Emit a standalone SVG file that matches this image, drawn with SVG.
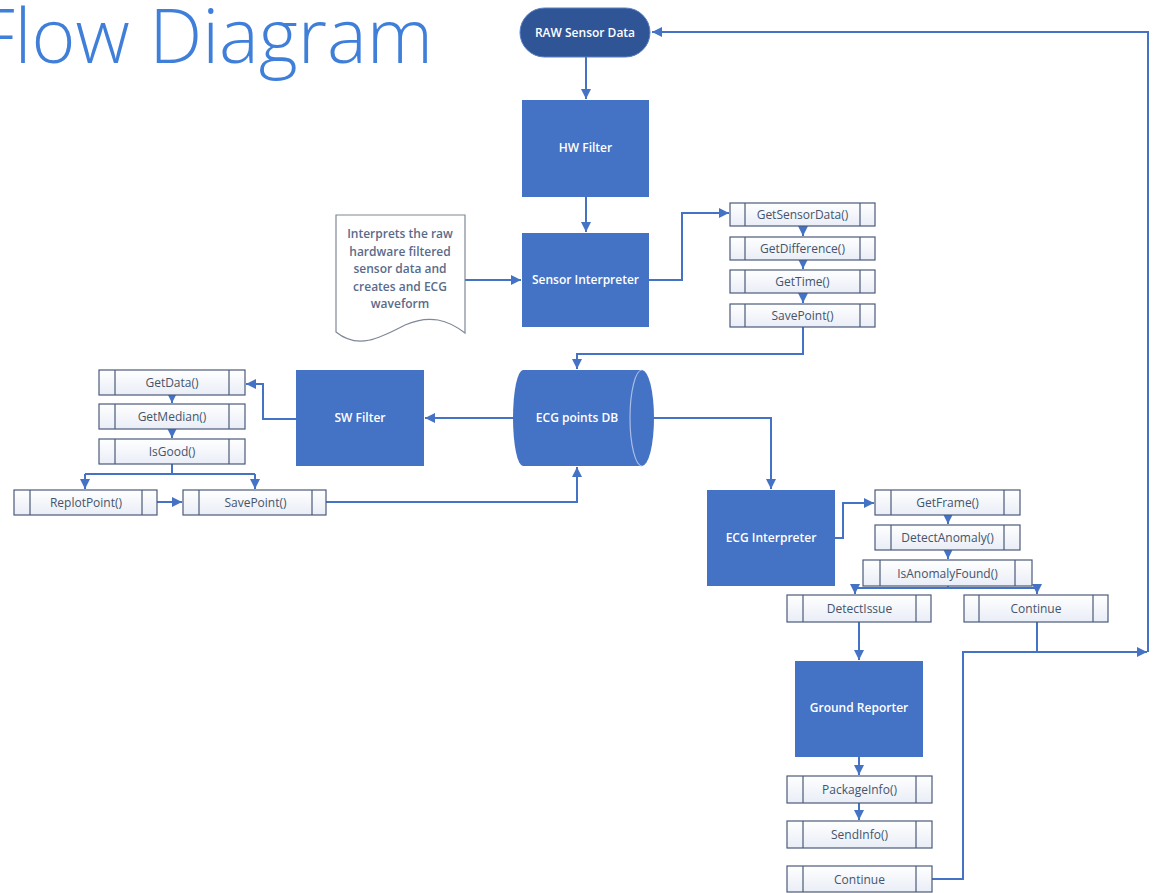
<svg xmlns="http://www.w3.org/2000/svg" width="1155" height="893" viewBox="0 0 1155 893">
<defs>
<marker id="ah" viewBox="0 0 10 10" refX="10" refY="5" markerWidth="10" markerHeight="10" markerUnits="userSpaceOnUse" orient="auto"><path d="M0,0 L10,5 L0,10 z" fill="#4472C4"/></marker>
<linearGradient id="fg" x1="0" y1="0" x2="0" y2="1"><stop offset="0" stop-color="#FFFFFF"/><stop offset="1" stop-color="#E9EDF6"/></linearGradient>
</defs>
<style>
.title{font-family:"Open Sans","Noto Sans",sans-serif;font-weight:300;font-size:75px;fill:#3F7FD9}
.node{fill:#4472C4}
.nt{font-family:"Open Sans","Noto Sans",sans-serif;font-weight:600;font-size:12px;fill:#FFFFFF;text-anchor:middle}
.fb{fill:url(#fg);stroke:#4B5B7A;stroke-width:1.2}
.fl{stroke:#4B5B7A;stroke-width:1.2}
.ft{font-family:"Open Sans","Noto Sans",sans-serif;font-size:12px;fill:#44546A;text-anchor:middle}
.dt{font-family:"Open Sans","Noto Sans",sans-serif;font-weight:600;font-size:12px;fill:#5A6B8A;text-anchor:middle}
.c{fill:none;stroke:#4472C4;stroke-width:2}
.a{marker-end:url(#ah)}
</style>
<rect width="1155" height="893" fill="#FFFFFF"/>
<text class="title" x="433" y="63" text-anchor="end">Flow Diagram</text>

<g id="connectors">
<path class="c a" d="M586,57 V99"/>
<path class="c a" d="M586,197 V232"/>
<path class="c a" d="M465,280 H521"/>
<path class="c a" d="M649,280 H682 V213 H729"/>
<path class="c a" d="M803,226 V236"/>
<path class="c a" d="M803,260 V269"/>
<path class="c a" d="M803,293 V303"/>
<path class="c a" d="M803,327 V354 H577 V369"/>
<path class="c a" d="M513,418 H425"/>
<path class="c a" d="M653,418 H771 V489"/>
<path class="c a" d="M297,419 H263 V384 H246"/>
<path class="c a" d="M172,395 V403"/>
<path class="c a" d="M172,429 V438"/>
<path class="c" d="M172,464 V474 M85,474 H255"/>
<path class="c a" d="M85,474 V489"/>
<path class="c a" d="M255,474 V489"/>
<path class="c a" d="M157,502 H182"/>
<path class="c a" d="M326,502 H577 V467"/>
<path class="c a" d="M835,538 H843 V503 H874"/>
<path class="c a" d="M948,515 V524"/>
<path class="c a" d="M948,550 V559"/>
<path class="c" d="M948,586 V588 M855,588 H1037"/>
<path class="c a" d="M855,584 V594"/>
<path class="c a" d="M1037,584 V594"/>
<path class="c a" d="M859,622 V660"/>
<path class="c a" d="M859,757 V775"/>
<path class="c a" d="M859,803 V820"/>
<path class="c" d="M1037,622 V652"/>
<path class="c a" d="M932,879 H963 V652 H1147"/>
<path class="c a" d="M1148,652 V32 H652"/>
</g>

<g id="raw">
<rect x="520" y="8" width="130" height="49" rx="24.5" fill="#2F5597" stroke="#5B7FC0" stroke-width="1"/>
<text class="nt" x="585" y="36.5">RAW Sensor Data</text>
</g>
<g id="hwfilter">
<rect class="node" x="522" y="100" width="127" height="97"/>
<text class="nt" x="585.5" y="152">HW Filter</text>
</g>
<g id="sensorinterp">
<rect class="node" x="522" y="233" width="127" height="94"/>
<text class="nt" x="585.5" y="284">Sensor Interpreter</text>
</g>
<g id="doc">
<path d="M336,215 H465 V333 C448,320 430,314 405,325 C380,338 358,350 336,332 Z" fill="#FFFFFF" stroke="#7F8896" stroke-width="1.2"/>
<text class="dt" x="400" y="238">Interprets the raw</text>
<text class="dt" x="400" y="255.5">hardware filtered</text>
<text class="dt" x="400" y="273">sensor data and</text>
<text class="dt" x="400" y="290.5">creates and ECG</text>
<text class="dt" x="400" y="308">waveform</text>
</g>

<g id="getsensordata"><rect class="fb" x="730" y="203" width="145" height="23"/><path class="fl" d="M745,203 V226 M860,203 V226"/><text class="ft" x="802.5" y="218.5">GetSensorData()</text></g>
<g id="getdifference"><rect class="fb" x="730" y="237" width="145" height="23"/><path class="fl" d="M745,237 V260 M860,237 V260"/><text class="ft" x="802.5" y="252.5">GetDifference()</text></g>
<g id="gettime"><rect class="fb" x="730" y="270" width="145" height="23"/><path class="fl" d="M745,270 V293 M860,270 V293"/><text class="ft" x="802.5" y="285.5">GetTime()</text></g>
<g id="savepoint1"><rect class="fb" x="730" y="304" width="145" height="23"/><path class="fl" d="M745,304 V327 M860,304 V327"/><text class="ft" x="802.5" y="319.5">SavePoint()</text></g>

<g id="db">
<path d="M523,370 H642 A12,48 0 0 1 642,466 H523 A10,48 0 0 1 523,370 Z" fill="#4472C4"/>
<path d="M642,370 A12,48 0 0 0 642,466" fill="none" stroke="#A9BDE6" stroke-width="1.2"/>
<text class="nt" x="577" y="422">ECG points DB</text>
</g>
<g id="swfilter">
<rect class="node" x="296" y="370" width="128" height="96"/>
<text class="nt" x="360" y="422">SW Filter</text>
</g>

<g id="getdata"><rect class="fb" x="99" y="370" width="146" height="25"/><path class="fl" d="M115,370 V395 M229,370 V395"/><text class="ft" x="172" y="387">GetData()</text></g>
<g id="getmedian"><rect class="fb" x="99" y="404" width="146" height="25"/><path class="fl" d="M115,404 V429 M229,404 V429"/><text class="ft" x="172" y="421">GetMedian()</text></g>
<g id="isgood"><rect class="fb" x="99" y="439" width="146" height="25"/><path class="fl" d="M115,439 V464 M229,439 V464"/><text class="ft" x="172" y="456">IsGood()</text></g>
<g id="replotpoint"><rect class="fb" x="14" y="490" width="143" height="25"/><path class="fl" d="M30,490 V515 M142,490 V515"/><text class="ft" x="86" y="507">ReplotPoint()</text></g>
<g id="savepoint2"><rect class="fb" x="183" y="490" width="143" height="25"/><path class="fl" d="M199,490 V515 M312,490 V515"/><text class="ft" x="255.5" y="507">SavePoint()</text></g>

<g id="ecginterp">
<rect class="node" x="707" y="490" width="128" height="96"/>
<text class="nt" x="771" y="542">ECG Interpreter</text>
</g>
<g id="getframe"><rect class="fb" x="875" y="490" width="145" height="25"/><path class="fl" d="M891,490 V515 M1004,490 V515"/><text class="ft" x="947.5" y="507">GetFrame()</text></g>
<g id="detectanomaly"><rect class="fb" x="875" y="525" width="145" height="25"/><path class="fl" d="M891,525 V550 M1004,525 V550"/><text class="ft" x="947.5" y="542">DetectAnomaly()</text></g>
<g id="isanomalyfound"><rect class="fb" x="863" y="560" width="169" height="26"/><path class="fl" d="M880,560 V586 M1015,560 V586"/><text class="ft" x="947.5" y="577.5">IsAnomalyFound()</text></g>
<g id="detectissue"><rect class="fb" x="787" y="595" width="144" height="27"/><path class="fl" d="M803,595 V622 M916,595 V622"/><text class="ft" x="859.5" y="612.5">DetectIssue</text></g>
<g id="continue1"><rect class="fb" x="964" y="595" width="144" height="27"/><path class="fl" d="M979,595 V622 M1093,595 V622"/><text class="ft" x="1036" y="612.5">Continue</text></g>

<g id="groundreporter">
<rect class="node" x="795" y="661" width="128" height="96"/>
<text class="nt" x="859" y="712">Ground Reporter</text>
</g>
<g id="packageinfo"><rect class="fb" x="787" y="776" width="145" height="27"/><path class="fl" d="M803,776 V803 M916,776 V803"/><text class="ft" x="859.5" y="793.5">PackageInfo()</text></g>
<g id="sendinfo"><rect class="fb" x="787" y="821" width="145" height="27"/><path class="fl" d="M803,821 V848 M916,821 V848"/><text class="ft" x="859.5" y="838.5">SendInfo()</text></g>
<g id="continue2"><rect class="fb" x="787" y="866" width="145" height="26"/><path class="fl" d="M803,866 V892 M916,866 V892"/><text class="ft" x="859.5" y="883.5">Continue</text></g>
</svg>
